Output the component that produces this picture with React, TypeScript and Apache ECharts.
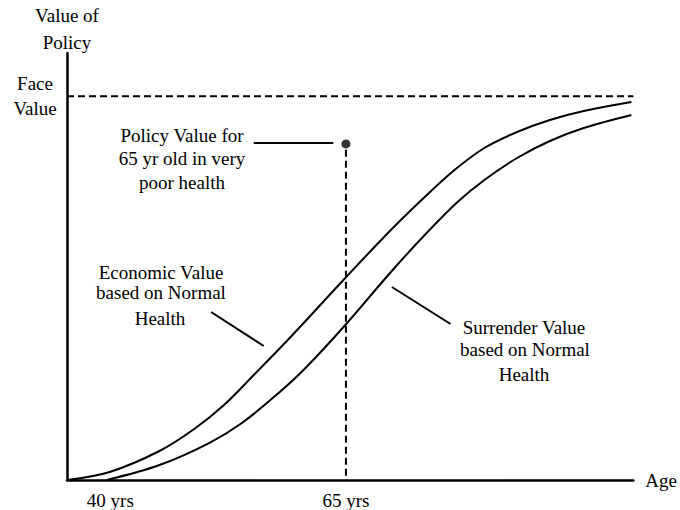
import React, { useEffect, useRef } from "react";
import * as echarts from "echarts";

// Age (x) and value-of-policy (y, face value = 100)
const economicAges = [35.4, 39.93, 45.21, 48.9, 52.06, 55.22, 59.23, 65.03, 69.77, 73.36, 76.52, 79.69, 83.16, 86.64, 90.23, 95.29];
const economicValues = [0, 2.09, 7.56, 13.29, 19.55, 27.37, 37.54, 52.91, 65.17, 73.77, 80.8, 86.54, 90.71, 93.84, 96.18, 98.53];

const surrenderAges = [39.62, 45.21, 50.48, 53.96, 57.86, 60.71, 65.03, 69.77, 73.36, 76.84, 79.69, 83.16, 86.64, 90.23, 95.29];
const surrenderValues = [0, 3.91, 9.64, 14.86, 22.68, 29.19, 40.66, 54.22, 63.86, 72.46, 78.2, 83.93, 88.36, 91.75, 95.14];

const faceValue = 100;
const policyAge = 65;
const policyValue = 87.6;

const xTickAges = [40, 65];
const xTickSuffix = " yrs";
const yTickLabels = ["Face\nValue"];

const xMin = 35.4;
const xMax = 95.5;
const yMax = 111.3;

// leader lines (data coords)
const policyLeader = [[55.22, 87.84], [63.66, 87.84]];
const economicLeader = [[50.69, 43.79], [56.28, 34.93]];
const surrenderLeader = [[69.88, 50.31], [76.1, 40.66]];

const FONT = '"Liberation Serif", "Times New Roman", serif';
const FS = 19;

export default function App() {
  const ref = useRef<HTMLDivElement>(null);
  useEffect(() => {
    if (!ref.current) return;
    const chart = echarts.init(ref.current, null, { renderer: "svg" });
    const zip = (xs: number[], ys: number[]) => xs.map((x, i) => [x, ys[i]]);
    const black = "#000";
    const txt = (text: string, x: number, y: number) => ({
      type: "text",
      x,
      y,
      style: {
        text,
        fill: black,
        font: `${FS}px ${FONT}`,
        align: "center",
        verticalAlign: "middle",
        textAlign: "center",
        textVerticalAlign: "middle",
      },
    });
    chart.setOption({
      animation: false,
      backgroundColor: "#fff",
      grid: { left: 67, right: 43, top: 53, bottom: 30, containLabel: false },
      xAxis: {
        type: "value",
        min: xMin,
        max: xMax,
        name: "Age",
        nameLocation: "end",
        nameGap: 12,
        nameTextStyle: { fontFamily: FONT, fontSize: FS, color: black },
        axisLine: { show: true, lineStyle: { color: black, width: 2.5 } },
        axisTick: { show: false },
        splitLine: { show: false },
        axisLabel: {
          customValues: xTickAges,
          formatter: (v: number) => `${v}${xTickSuffix}`,
          fontFamily: FONT,
          fontSize: FS,
          color: black,
          margin: 11,
        },
      },
      yAxis: {
        type: "value",
        min: 0,
        max: yMax,
        name: "Value of\nPolicy",
        nameLocation: "end",
        nameGap: -3,
        nameTextStyle: {
          fontFamily: FONT,
          fontSize: FS,
          color: black,
          lineHeight: 27,
          align: "center",
          verticalAlign: "bottom",
        },
        axisLine: { show: true, lineStyle: { color: black, width: 2.5 } },
        axisTick: { show: false },
        splitLine: { show: false },
        axisLabel: {
          customValues: [faceValue],
          formatter: () => yTickLabels[0],
          fontFamily: FONT,
          fontSize: FS,
          lineHeight: 25,
          color: black,
          align: "center",
          margin: 32,
        },
      },
      series: [
        {
          type: "line",
          name: "Economic Value",
          data: zip(economicAges, economicValues),
          smooth: 0.35,
          showSymbol: false,
          lineStyle: { color: black, width: 2 },
        },
        {
          type: "line",
          name: "Surrender Value",
          data: zip(surrenderAges, surrenderValues),
          smooth: 0.35,
          showSymbol: false,
          lineStyle: { color: black, width: 2 },
        },
        {
          type: "line",
          name: "Face Value",
          data: [[xMin, faceValue], [xMax, faceValue]],
          showSymbol: false,
          lineStyle: { color: black, width: 2, type: [7, 4] },
        },
        {
          type: "line",
          name: "65 drop",
          data: [[policyAge, policyValue - 1.5], [policyAge, 0]],
          showSymbol: false,
          lineStyle: { color: black, width: 2, type: [7, 4] },
        },
        {
          type: "scatter",
          name: "Policy Value",
          data: [[policyAge, policyValue]],
          symbolSize: 9,
          itemStyle: { color: black },
        },
        {
          type: "line",
          data: policyLeader,
          showSymbol: false,
          lineStyle: { color: black, width: 2 },
        },
        {
          type: "line",
          data: economicLeader,
          showSymbol: false,
          lineStyle: { color: black, width: 2 },
        },
        {
          type: "line",
          data: surrenderLeader,
          showSymbol: false,
          lineStyle: { color: black, width: 2 },
        },
      ],
      graphic: [
        txt("Policy Value for", 182, 135),
        txt("65 yr old in very", 182, 158),
        txt("poor health", 182, 182),
        txt("Economic Value", 161, 272),
        txt("based on Normal", 161, 292),
        txt("Health", 160, 318),
        txt("Surrender Value", 524, 327),
        txt("based on Normal", 525, 349),
        txt("Health", 524, 374),
      ],
    });
    return () => chart.dispose();
  }, []);
  return (
    <div
      ref={ref}
      style={{ position: "fixed", left: 0, top: 0, width: 680, height: 510, background: "#fff" }}
    />
  );
}
